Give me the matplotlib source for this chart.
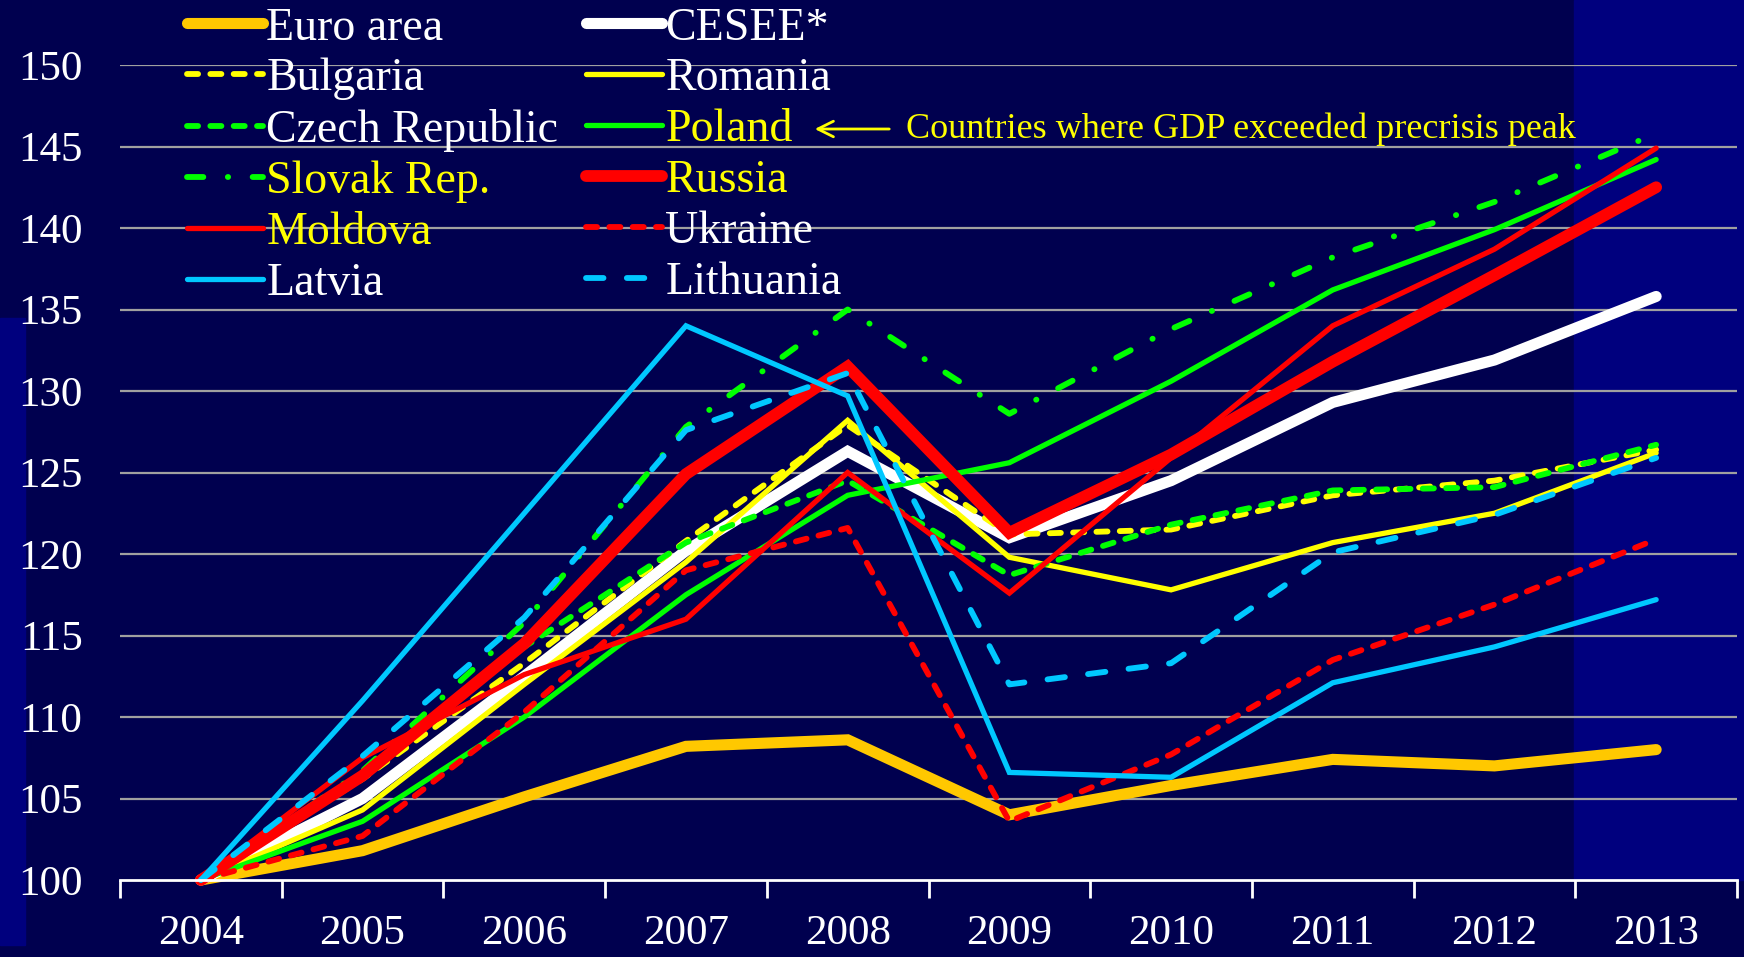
import numpy as np
import matplotlib.pyplot as plt
from matplotlib.patches import Rectangle
from matplotlib.lines import Line2D

plt.rcParams['font.family'] = ['Liberation Serif', 'DejaVu Serif']

years = ['2004', '2005', '2006', '2007', '2008', '2009', '2010', '2011', '2012', '2013']
yticks = [100, 105, 110, 115, 120, 125, 130, 135, 140, 145, 150]

euro_area = [100, 101.8, 105.1, 108.2, 108.6, 104.0, 105.8, 107.4, 107.0, 108.0]
cesee = [100, 105.0, 112.5, 120.2, 126.3, 121.0, 124.5, 129.3, 131.9, 135.8]
bulgaria = [100, 106.2, 113.3, 120.8, 127.9, 121.2, 121.5, 123.6, 124.5, 126.4]
romania = [100, 104.3, 112.0, 119.5, 128.2, 119.8, 117.8, 120.7, 122.5, 126.2]
czech = [100, 106.5, 114.3, 120.7, 124.5, 118.7, 121.8, 123.9, 124.1, 126.7]
poland = [100, 103.6, 110.0, 117.5, 123.6, 125.6, 130.6, 136.2, 139.9, 144.2]
slovak = [100, 106.7, 115.8, 127.8, 135.0, 128.6, 133.8, 138.2, 141.6, 145.8]
russia = [100, 106.4, 114.5, 124.9, 131.5, 121.3, 126.1, 131.8, 137.1, 142.5]
moldova = [100, 107.5, 112.6, 116.0, 125.0, 117.6, 125.9, 134.0, 138.7, 144.9]
ukraine = [100, 102.7, 110.3, 119.0, 121.6, 103.6, 107.7, 113.5, 116.9, 120.9]
latvia = [100, 111.0, 122.5, 134.0, 129.7, 106.6, 106.3, 112.1, 114.3, 117.2]
lithuania = [100, 107.6, 116.1, 127.6, 131.1, 112.0, 113.3, 120.1, 122.4, 125.9]

note = 'Countries where GDP exceeded precrisis peak'

BG = '#00004f'
BAND = '#00007e'
GOLD = '#ffc800'
YEL = '#ffff00'
GRN = '#00ff00'
RED = '#ff0000'
CYAN = '#00c8ff'

short_dash = (0, (1.9, 2.1))
long_dash = (0, (3.0, 4.0))
dash_dot = (0, (2.8, 4.2, 0.05, 4.2))

# name, values, color, lw, linestyle, legend text colour
series = [
    ('Euro area', euro_area, GOLD, 8.0, '-', 'white'),
    ('CESEE*', cesee, 'white', 8.0, '-', 'white'),
    ('Bulgaria', bulgaria, YEL, 4.2, short_dash, 'white'),
    ('Romania', romania, YEL, 3.8, '-', 'white'),
    ('Czech Republic', czech, GRN, 4.2, short_dash, 'white'),
    ('Poland', poland, GRN, 3.8, '-', YEL),
    ('Slovak Rep.', slovak, GRN, 4.2, dash_dot, YEL),
    ('Russia', russia, RED, 8.5, '-', YEL),
    ('Moldova', moldova, RED, 3.8, '-', YEL),
    ('Ukraine', ukraine, RED, 4.2, short_dash, 'white'),
    ('Latvia', latvia, CYAN, 3.8, '-', 'white'),
    ('Lithuania', lithuania, CYAN, 4.2, long_dash, 'white'),
]

W, H = 1744, 957
fig = plt.figure(figsize=(W / 100, H / 100), dpi=100, facecolor=BG)

# lighter slide strips
fig.patches.append(Rectangle((1574 / W, 77 / H), (W - 1574) / W, (H - 77) / H,
                             transform=fig.transFigure, color=BAND, zorder=-5))
fig.patches.append(Rectangle((0, 12 / H), 25 / W, (H - 330) / H,
                             transform=fig.transFigure, color=BAND, zorder=-5))

ax = fig.add_axes([120 / W, 77 / H, 1617 / W, 815 / H])
ax.set_facecolor('none')

x = np.arange(len(years))
for name, vals, col, lw, ls, tcol in series:
    ax.plot(x, vals, color=col, lw=lw, linestyle=ls,
            solid_capstyle='round', dash_capstyle='round',
            solid_joinstyle='miter', label=name, clip_on=False)

ax.set_xlim(-0.5, len(years) - 0.5)
ax.set_ylim(100, 150)
ax.set_yticks(yticks)
ax.set_yticklabels([str(v) for v in yticks])
ax.tick_params(axis='y', length=0, pad=27, labelsize=31, labelcolor='white')

ax.set_xticks(np.arange(-0.5, len(years)), minor=False)
ax.set_xticklabels([])
ax.set_xticks(x, minor=True)
ax.set_xticklabels(years, minor=True)
ax.tick_params(axis='x', which='major', length=13, width=2, color='white', direction='out')
ax.tick_params(axis='x', which='minor', length=0, pad=25, labelsize=31, labelcolor='white')

for v in yticks[1:]:
    ax.axhline(v, color='#a0a0a0', lw=1.6, zorder=0)

for s in ['top', 'right', 'left']:
    ax.spines[s].set_visible(False)
ax.spines['bottom'].set_color('white')
ax.spines['bottom'].set_linewidth(2)

col1 = [s for i, s in enumerate(series) if i % 2 == 0]
col2 = [s for i, s in enumerate(series) if i % 2 == 1]


def make_legend(items, x0):
    hs = [Line2D([], [], color=s[2], lw=s[3], linestyle=s[4],
                 solid_capstyle='round', dash_capstyle='round') for s in items]
    leg = ax.legend(hs, [s[0] for s in items], loc='upper left',
                    bbox_to_anchor=(x0 / W, (H - 7) / H), bbox_transform=fig.transFigure,
                    frameon=False, fontsize=33, handlelength=1.65, handletextpad=0.08,
                    labelspacing=0.185, borderpad=0, borderaxespad=0)
    for t, s in zip(leg.get_texts(), items):
        t.set_color(s[5])
    return leg


leg1 = make_legend(col1, 187)
ax.add_artist(leg1)
leg2 = make_legend(col2, 586)

ax.annotate('', xy=(812, H - 129), xytext=(892, H - 129),
            xycoords='figure pixels', textcoords='figure pixels',
            arrowprops=dict(arrowstyle='->', color=YEL, lw=2, mutation_scale=28))
fig.text(906 / W, (H - 129) / H, note, color=YEL, fontsize=26, va='center', ha='left')

fig.savefig('out.png', dpi=100, facecolor=BG)
